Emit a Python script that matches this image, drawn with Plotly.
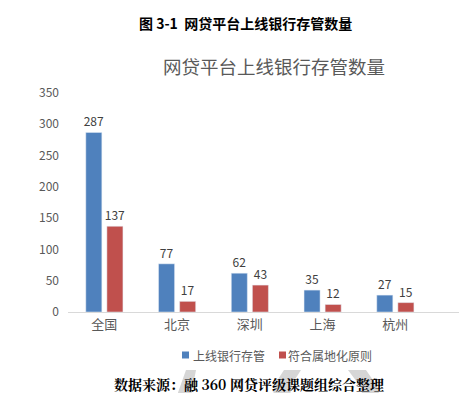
import plotly.graph_objects as go

categories = ["全国", "北京", "深圳", "上海", "杭州"]
online_custody = [287, 77, 62, 35, 27]
local_principle = [137, 17, 43, 12, 15]
series_names = ["上线银行存管", "符合属地化原则"]
series_colors = ["#4F81BD", "#C0504D"]
y_ticks = [0, 50, 100, 150, 200, 250, 300, 350]

W, H = 472, 393
ml, mr, mt, mb = 60, 21, 85, 89
PW, PH = W - ml - mr, H - mt - mb


def px(x):
    return (x - ml) / PW


def py(y):
    return (H - mb - y) / PH


fig = go.Figure()
for name, vals, col in zip(series_names, [online_custody, local_principle], series_colors):
    fig.add_trace(go.Bar(
        x=categories, y=vals, name=name,
        marker_color=col, text=vals, textposition="outside",
        constraintext="none",
        textfont=dict(size=12, color="#404040"), cliponaxis=False,
    ))

# watermark fragments (light grey) near the bottom
wm = [
    [(178, 362), (188, 362), (182, 393), (167, 393)],
    [(276, 362), (293, 362), (284, 376), (281, 393), (264, 393), (267, 376)],
    [(340, 362), (358, 362), (369, 378), (373, 393), (356, 393), (352, 378)],
]
shapes = []
for poly in wm:
    path = "M " + " L ".join(f"{px(a):.4f},{py(b):.4f}" for a, b in poly) + " Z"
    shapes.append(dict(type="path", xref="paper", yref="paper", path=path,
                       fillcolor="#D6D6D6", line=dict(width=0), layer="below"))

# legend
legend_items = [(174, 183), (271, 278)]
annotations = []
for (sx, tx), name, col in zip(legend_items, series_names, series_colors):
    shapes.append(dict(type="rect", xref="paper", yref="paper",
                       x0=px(sx), x1=px(sx + 7), y0=py(350.5), y1=py(343.5),
                       fillcolor=col, line=dict(width=0)))
    annotations.append(dict(text=name, xref="paper", yref="paper", x=px(tx), xanchor="left",
                            y=py(347), yanchor="middle", showarrow=False,
                            font=dict(size=12, color="#595959")))

annotations += [
    dict(text="<b>图 3-1  网贷平台上线银行存管数量</b>", xref="paper", yref="paper",
         x=px(237), xanchor="center", y=py(15), yanchor="middle", showarrow=False,
         font=dict(size=14, color="#000000")),
    dict(text="网贷平台上线银行存管数量", xref="paper", yref="paper",
         x=px(266), xanchor="center", y=py(58), yanchor="middle", showarrow=False,
         font=dict(size=18.5, color="#595959")),
    dict(text="<b>数据来源：融 360 网贷评级课题组综合整理</b>", xref="paper", yref="paper",
         x=px(104), xanchor="left", y=py(376), yanchor="middle", showarrow=False,
         font=dict(size=14, color="#000000",
                   family="Noto Serif CJK SC, Noto Sans CJK SC, serif")),
]

fig.update_layout(
    width=W, height=H,
    margin=dict(l=ml, r=mr, t=mt, b=mb, autoexpand=False),
    paper_bgcolor="white", plot_bgcolor="rgba(0,0,0,0)",
    font=dict(family="Noto Sans CJK SC, sans-serif", color="#595959", size=12),
    barmode="group", bargap=0.42, bargroupgap=0.24,
    showlegend=False,
    xaxis=dict(range=[-0.5, 4.875], showline=True, linecolor="#D9D9D9", linewidth=1,
               ticks="", showgrid=False, tickfont=dict(size=13, color="#595959")),
    yaxis=dict(range=[0, 350], tickvals=y_ticks, showgrid=False, zeroline=False,
               showline=False, ticks="", ticklabelstandoff=8,
               tickfont=dict(size=12, color="#595959")),
    shapes=shapes,
    annotations=annotations,
)

fig.write_html("out.html")
